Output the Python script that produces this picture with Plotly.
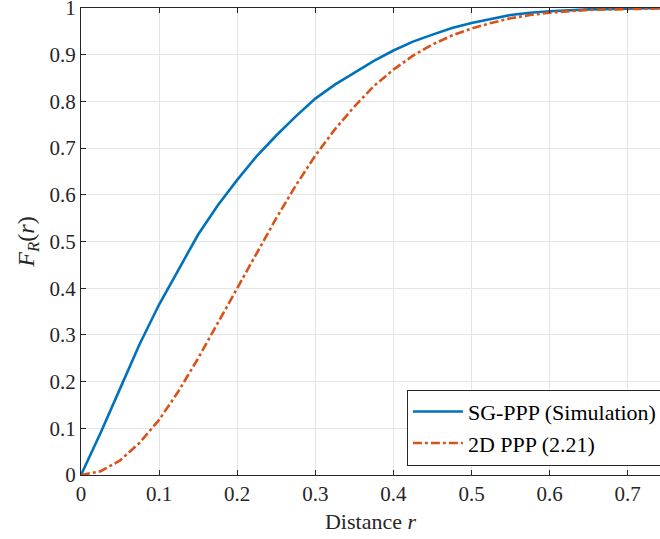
import plotly.graph_objects as go

r_sg = [0, 0.025, 0.05, 0.075, 0.1, 0.125, 0.15, 0.175, 0.2, 0.225, 0.25, 0.275, 0.3, 0.325, 0.35, 0.375, 0.4, 0.425, 0.45, 0.475, 0.5, 0.525, 0.55, 0.575, 0.6, 0.65, 0.7, 0.7413]
F_sg = [0, 0.09, 0.185, 0.28, 0.365, 0.44, 0.515, 0.577, 0.632, 0.683, 0.727, 0.768, 0.806, 0.836, 0.862, 0.887, 0.909, 0.928, 0.943, 0.957, 0.968, 0.977, 0.985, 0.99, 0.993, 0.997, 0.999, 1.0]

r_2d = [0, 0.025, 0.05, 0.075, 0.1, 0.125, 0.15, 0.175, 0.2, 0.225, 0.25, 0.275, 0.3, 0.325, 0.35, 0.375, 0.4, 0.425, 0.45, 0.475, 0.5, 0.525, 0.55, 0.575, 0.6, 0.65, 0.7, 0.7413]
F_2d = [0, 0.008, 0.031, 0.069, 0.118, 0.18, 0.25, 0.325, 0.4, 0.477, 0.55, 0.62, 0.684, 0.74, 0.789, 0.833, 0.868, 0.898, 0.922, 0.941, 0.956, 0.968, 0.978, 0.985, 0.99, 0.996, 0.998, 0.999]

xticks = [0, 0.1, 0.2, 0.3, 0.4, 0.5, 0.6, 0.7]
yticks = [0, 0.1, 0.2, 0.3, 0.4, 0.5, 0.6, 0.7, 0.8, 0.9, 1]

FONT = "Liberation Serif"
axis_col = "#262626"

fig = go.Figure()
fig.add_trace(go.Scatter(x=r_sg, y=F_sg, mode="lines", name="SG-PPP (Simulation)",
                         line=dict(color="#0072BD", width=2.6)))
fig.add_trace(go.Scatter(x=r_2d, y=F_2d, mode="lines", name="2D PPP (2.21)",
                         line=dict(color="#D95319", width=2.6, dash="dashdot")))

fig.update_layout(
    width=660, height=539,
    margin=dict(l=81, r=0, t=8, b=64, autoexpand=False),
    paper_bgcolor="white", plot_bgcolor="white",
    font=dict(family=FONT, size=21, color=axis_col),
    showlegend=True,
    legend=dict(x=1.005, y=0.02, xanchor="right", yanchor="bottom",
                bgcolor="white", bordercolor=axis_col, borderwidth=1,
                font=dict(family=FONT, size=22, color="black"),
                tracegroupgap=0, itemwidth=50),
)
fig.update_xaxes(range=[0, 0.7413], tickvals=xticks, ticktext=[str(v) for v in xticks],
                 showgrid=True, gridcolor="#e5e5e5", gridwidth=1,
                 showline=True, linecolor=axis_col, linewidth=1, mirror="ticks",
                 ticks="inside", ticklen=5, tickcolor=axis_col, zeroline=False,
                 ticklabeloverflow="allow", automargin=False,
                 title=dict(text="Distance <i>r</i>", font=dict(family=FONT, size=22), standoff=8))
fig.update_yaxes(range=[0, 1], tickvals=yticks, ticktext=[str(v) for v in yticks],
                 showgrid=True, gridcolor="#e5e5e5", gridwidth=1,
                 showline=True, linecolor=axis_col, linewidth=1,
                 ticks="inside", ticklen=5, tickcolor=axis_col, zeroline=False,
                 ticklabeloverflow="allow", automargin=False,
                 title=dict(text="<i>F</i><sub><i>R</i></sub>(<i>r</i>)", font=dict(family=FONT, size=24), standoff=8))

fig.write_html("out.html")
